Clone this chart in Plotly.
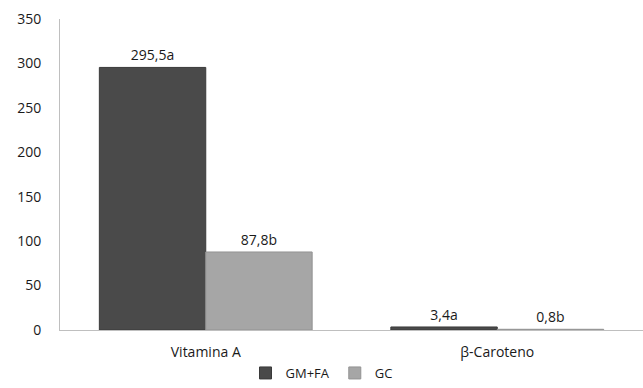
import plotly.graph_objects as go

categories = ["Vitamina A", "β-Caroteno"]
gm_fa = [295.5, 3.4]
gc = [87.8, 0.8]
gm_fa_letters = ["a", "a"]
gc_letters = ["b", "b"]
y_ticks = [0, 50, 100, 150, 200, 250, 300, 350]


def fmt(v, letter):
    return f"{v:.1f}".replace(".", ",") + letter


FONT = "Open Sans, Noto Sans, sans-serif"

fig = go.Figure()
fig.add_trace(go.Bar(
    name="GM+FA", x=categories, y=gm_fa,
    text=[fmt(v, l) for v, l in zip(gm_fa, gm_fa_letters)],
    textposition="outside", cliponaxis=False,
    marker=dict(color="#4a4a4a", line=dict(color="#3a3a3a", width=1)),
))
fig.add_trace(go.Bar(
    name="GC", x=categories, y=gc,
    text=[fmt(v, l) for v, l in zip(gc, gc_letters)],
    textposition="outside", cliponaxis=False,
    marker=dict(color="#a6a6a6", line=dict(color="#939393", width=1)),
))

fig.update_layout(
    width=643, height=388,
    margin=dict(l=60, r=0, t=19, b=58, autoexpand=False),
    paper_bgcolor="white", plot_bgcolor="white",
    barmode="group", bargap=0.27, bargroupgap=0,
    font=dict(family=FONT, size=14, color="#1a1a1a"),
    showlegend=True,
    legend=dict(orientation="h", x=0.5, xanchor="center", xref="container",
                y=-0.012, yanchor="bottom", yref="container",
                font=dict(size=13), itemwidth=30, tracegroupgap=0),
)
fig.update_traces(textfont=dict(size=14, color="#1a1a1a"))
fig.update_xaxes(showline=True, linecolor="#bfbfbf", linewidth=1, ticks="",
                 showgrid=False, tickfont=dict(size=14), ticklabelstandoff=9)
fig.update_yaxes(range=[0, 350], tickvals=y_ticks, showline=True, linecolor="#bfbfbf",
                 linewidth=1, showgrid=False, zeroline=False, ticks="",
                 tickfont=dict(size=14), ticklabelstandoff=15)

fig.write_html("out.html")
